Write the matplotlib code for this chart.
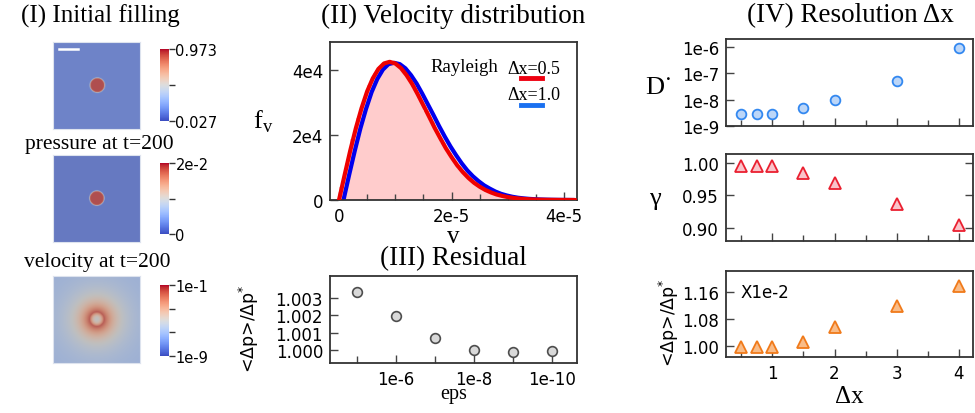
import numpy as np
import matplotlib.pyplot as plt
import matplotlib as mpl
from matplotlib.colors import Normalize, LogNorm

plt.rcParams['font.family'] = ['DejaVu Sans']
SERIF = 'Liberation Serif'

# ---- (II) velocity distribution (v in 1e-5, f in 1e4)
hist_v = np.arange(0.05, 4.2, 0.1)
hist_f = [0.39, 1.15, 1.87, 2.53, 3.09, 3.55, 3.90, 4.13, 4.24, 4.24,
          4.14, 3.96, 3.71, 3.41, 3.08, 2.74, 2.39, 2.06, 1.74, 1.45,
          1.19, 0.96, 0.77, 0.61, 0.47, 0.36, 0.27, 0.20, 0.15, 0.11,
          0.075, 0.05, 0.034, 0.022, 0.014, 0.009, 0.006, 0.004, 0.002, 0.001,
          0.001, 0.0]
red_v = np.arange(0.0, 4.21, 0.1)
red_f = [0.0, 0.77, 1.52, 2.21, 2.82, 3.34, 3.74, 4.03, 4.20, 4.25,
         4.20, 4.06, 3.84, 3.57, 3.25, 2.91, 2.57, 2.22, 1.90, 1.59,
         1.32, 1.07, 0.86, 0.68, 0.53, 0.41, 0.31, 0.233, 0.17, 0.126,
         0.09, 0.064, 0.045, 0.031, 0.021, 0.014, 0.009, 0.006, 0.004, 0.0025,
         0.0015, 0.001, 0.0]
blue_v = np.arange(0.08, 4.19, 0.1)
blue_f = [0.0, 0.77, 1.51, 2.20, 2.80, 3.32, 3.72, 4.01, 4.18, 4.22,
          4.18, 4.05, 3.84, 3.58, 3.27, 2.94, 2.61, 2.27, 1.95, 1.65,
          1.38, 1.13, 0.91, 0.73, 0.58, 0.45, 0.35, 0.26, 0.19, 0.14,
          0.10, 0.07, 0.05, 0.035, 0.024, 0.016, 0.011, 0.007, 0.005, 0.003,
          0.002, 0.0]

# ---- (III) residual
eps = [1e-5, 1e-6, 1e-7, 1e-8, 1e-9, 1e-10]
resid = [1.00335, 1.00198, 1.00068, 1.00000, 0.99988, 0.99990]

# ---- (IV) resolution
dx = [0.5, 0.75, 1.0, 1.5, 2.0, 3.0, 4.0]
D_dot = [2.8e-9, 2.8e-9, 2.86e-9, 4.6e-9, 9.3e-9, 5.0e-8, 9.4e-7]
gamma = [0.9954, 0.9954, 0.9952, 0.9839, 0.9695, 0.9359, 0.9046]
dp_ratio = [0.9961, 0.9961, 0.9961, 1.011, 1.0557, 1.120, 1.178]

# ---- (I) snapshot fields: background / drop levels (colormap fraction)
fill_bg, fill_drop = 0.13, 0.95
pres_bg, pres_drop = 0.09, 0.95
vel_far, vel_ring, vel_center = 0.32, 0.92, 0.5

W, H = 975, 414
fig = plt.figure(figsize=(9.75, 4.14), dpi=100)


def px(l, t, r, b):
    return [l / W, 1 - b / H, (r - l) / W, (b - t) / H]


def ftext(x, y, s, **kw):
    fig.text(x / W, 1 - y / H, s, ha='center', va='center', **kw)


def style(ax):
    for s in ax.spines.values():
        s.set_linewidth(1.3)
        s.set_color('#333333')
    ax.tick_params(which='both', direction='in', color='#444444', labelsize=12,
                   width=1.0, pad=5)
    ax.tick_params(which='major', length=6)
    ax.tick_params(which='minor', length=4)


# ---------------- (I) initial filling
cmap = plt.get_cmap('coolwarm')
n = 120
yy, xx = np.mgrid[0:n, 0:n]
r = np.hypot(xx - n / 2, yy - n / 2)
R = 10.0
disc = 0.5 * (1 - np.tanh((r - R) / 0.6))


def shade(vals):
    rgb = cmap(vals)[..., :3]
    return 0.66 * rgb + 0.34 * 0.52


img1 = shade(fill_bg + (fill_drop - fill_bg) * disc)
img2 = shade(pres_bg + (pres_drop - pres_bg) * disc)
vel = np.where(r > R, vel_far + (vel_ring - vel_far) * np.exp(-(r - R) / 20.0),
               vel_center + (vel_ring - vel_center) * (r / R) ** 2)
img3 = shade(vel)

rows = [(43, 130, 50, 122, img1, Normalize(0.027, 0.973), [0.027, 0.5, 0.973],
         ['0.027', '', '0.973']),
        (156, 243, 164, 235, img2, Normalize(0, 2e-2), [0, 1e-2, 2e-2],
         ['0', '', '2e-2']),
        (277, 364, 286, 357, img3, LogNorm(1e-9, 1e-1),
         [1e-9, 10 ** -6.33, 10 ** -3.67, 1e-1], ['1e-9', '', '', '1e-1'])]
for top, bot, ctop, cbot, img, norm, ticks, labels in rows:
    ax = fig.add_axes(px(52, top, 140, bot))
    ax.imshow(img, origin='lower', interpolation='bilinear')
    ax.set_xticks([])
    ax.set_yticks([])
    for s in ax.spines.values():
        s.set_color('#dde3ee')
    cax = fig.add_axes(px(160, ctop, 168.5, cbot))
    cb = fig.colorbar(mpl.cm.ScalarMappable(norm=norm, cmap=cmap), cax=cax)
    cb.outline.set_visible(False)
    cb.minorticks_off()
    cb.set_ticks(ticks)
    cb.set_ticklabels(labels)
    cax.tick_params(length=4, width=1.0, color='#333333', labelsize=10.5, pad=1)
    if top == 43:
        ax.plot([0.07, 0.29], [0.92, 0.92], color='white', lw=1.8,
                transform=ax.transAxes)

ftext(100, 16, '(I) Initial filling', family=SERIF, fontsize=18)
ftext(99, 145, 'pressure at t=200', family=SERIF, fontsize=15.5)
ftext(97, 263, 'velocity at t=200', family=SERIF, fontsize=15.5)

# ---------------- (II) velocity distribution
ax2 = fig.add_axes(px(330, 43, 577, 201))
ax2.bar(hist_v * 1e-5, np.array(hist_f) * 1e4, width=0.1e-5, color='#ffcccc',
        edgecolor='none', zorder=1)
ax2.plot(blue_v * 1e-5, np.array(blue_f) * 1e4, color='#0000ee', lw=3,
         zorder=2, solid_capstyle='round', solid_joinstyle='round')
ax2.plot(red_v * 1e-5, np.array(red_f) * 1e4, color='#ee0000', lw=3,
         zorder=3, solid_capstyle='round', solid_joinstyle='round')
ax2.set_xlim(-0.16e-5, 4.23e-5)
ax2.set_ylim(0, 4.86e4)
ax2.set_xticks([0, 2e-5, 4e-5], ['0', '2e-5', '4e-5'])
ax2.set_xticks(np.arange(0, 4.01e-5, 0.5e-5), minor=True)
ax2.set_yticks([0, 2e4, 4e4], ['0', '2e4', '4e4'])
style(ax2)
ax2.set_ylabel('f$_\\mathregular{v}$', family=SERIF, fontsize=19, rotation=0,
               va='center', ha='center')
ax2.yaxis.set_label_coords(-0.27, 0.5)
ax2.set_xlabel('v', family=SERIF, fontsize=18, va='center')
ax2.xaxis.set_label_coords(0.5, -0.225)
ax2.text(0.405, 0.845, 'Rayleigh', family=SERIF, fontsize=13.5,
         transform=ax2.transAxes, va='center')
ax2.text(0.72, 0.835, 'Δx=0.5', family=SERIF, fontsize=13,
         transform=ax2.transAxes, va='center')
ax2.plot([0.775, 0.86], [0.77, 0.77], color='#ee0010', lw=3.5,
         transform=ax2.transAxes)
ax2.text(0.72, 0.665, 'Δx=1.0', family=SERIF, fontsize=13,
         transform=ax2.transAxes, va='center')
ax2.plot([0.775, 0.86], [0.6, 0.6], color='#1a70f0', lw=3.5,
         transform=ax2.transAxes)
ftext(453, 16, '(II) Velocity distribution', family=SERIF, fontsize=19.5)

# ---------------- (III) residual
ax3 = fig.add_axes(px(330, 277, 577, 364))
ax3.plot(eps, resid, 'o', ms=7, mfc='#d9d9d9', mec='#4d4d4d', mew=1.2)
ax3.set_xscale('log')
ax3.set_xlim(10 ** -4.31, 10 ** -10.64)
ax3.set_xticks([1e-6, 1e-8, 1e-10], ['1e-6', '1e-8', '1e-10'])
ax3.set_xticks([1e-5, 1e-7, 1e-9], minor=True)
ax3.set_xticklabels([], minor=True)
ax3.set_ylim(0.99923, 1.00428)
ax3.set_yticks([1.000, 1.001, 1.002, 1.003], ['1.000', '1.001', '1.002', '1.003'])
style(ax3)
ax3.tick_params(which='minor', length=5)
ax3.set_xlabel('eps', family=SERIF, fontsize=14.5, va='center')
ax3.xaxis.set_label_coords(0.5, -0.35)
ax3.set_ylabel('<Δp>/Δp$^\\mathregular{*}$', fontsize=12.5)
ax3.yaxis.set_label_coords(-0.279, 0.41)
ftext(453, 259, '(III) Residual', family=SERIF, fontsize=19.5)

# ---------------- (IV) resolution
axA = fig.add_axes(px(726, 40, 973, 127))
axB = fig.add_axes(px(726, 155, 973, 242))
axC = fig.add_axes(px(726, 272, 973, 358))

axA.plot(dx, D_dot, 'o', ms=7, mfc='#bcd6f8', mec='#3388f0', mew=1.3)
axA.set_yscale('log')
axA.set_ylim(10 ** -9.01, 10 ** -5.68)
axA.set_yticks([1e-9, 1e-8, 1e-7, 1e-6], ['1e-9', '1e-8', '1e-7', '1e-6'])
axA.minorticks_off()
axA.set_ylabel('D\u02d9', family=SERIF, fontsize=19, rotation=0,
               va='center', ha='center')
axA.yaxis.set_label_coords(-0.27, 0.45)

axB.plot(dx, gamma, '^', ms=9, mfc='#f9c4ca', mec='#ea2030', mew=1.3)
axB.set_ylim(0.8794, 1.0139)
axB.set_yticks([0.90, 0.95, 1.00], ['0.90', '0.95', '1.00'])
axB.set_ylabel('γ', family=SERIF, fontsize=19, rotation=0,
               va='center', ha='center')
axB.yaxis.set_label_coords(-0.287, 0.5)

axC.plot(dx, dp_ratio, '^', ms=9, mfc='#f9bc88', mec='#f07a1a', mew=1.3)
axC.set_ylim(0.9663, 1.2244)
axC.set_yticks([1.00, 1.08, 1.16], ['1.00', '1.08', '1.16'])
axC.text(0.06, 0.754, 'X1e-2', fontsize=12, transform=axC.transAxes,
         va='center', ha='left')
axC.set_ylabel('<Δp>/Δp$^\\mathregular{*}$', fontsize=12.5)
axC.yaxis.set_label_coords(-0.182, 0.41)
axC.set_xlabel('Δx', family=SERIF, fontsize=18, va='center')
axC.xaxis.set_label_coords(0.5, -0.45)

for ax in (axA, axB, axC):
    ax.set_xlim(0.256, 4.225)
    ax.set_xticks([1, 2, 3, 4])
    ax.set_xticks([0.5, 1.5, 2.5, 3.5], minor=True)
    style(ax)
    ax.tick_params(axis='y', which='minor', left=False, right=False)
    if ax is not axC:
        ax.set_xticklabels([])
axB.tick_params(axis='y', which='major', right=True)
ftext(850, 16, '(IV) Resolution Δx', family=SERIF, fontsize=19.5)

fig.savefig('out.png', dpi=100)
